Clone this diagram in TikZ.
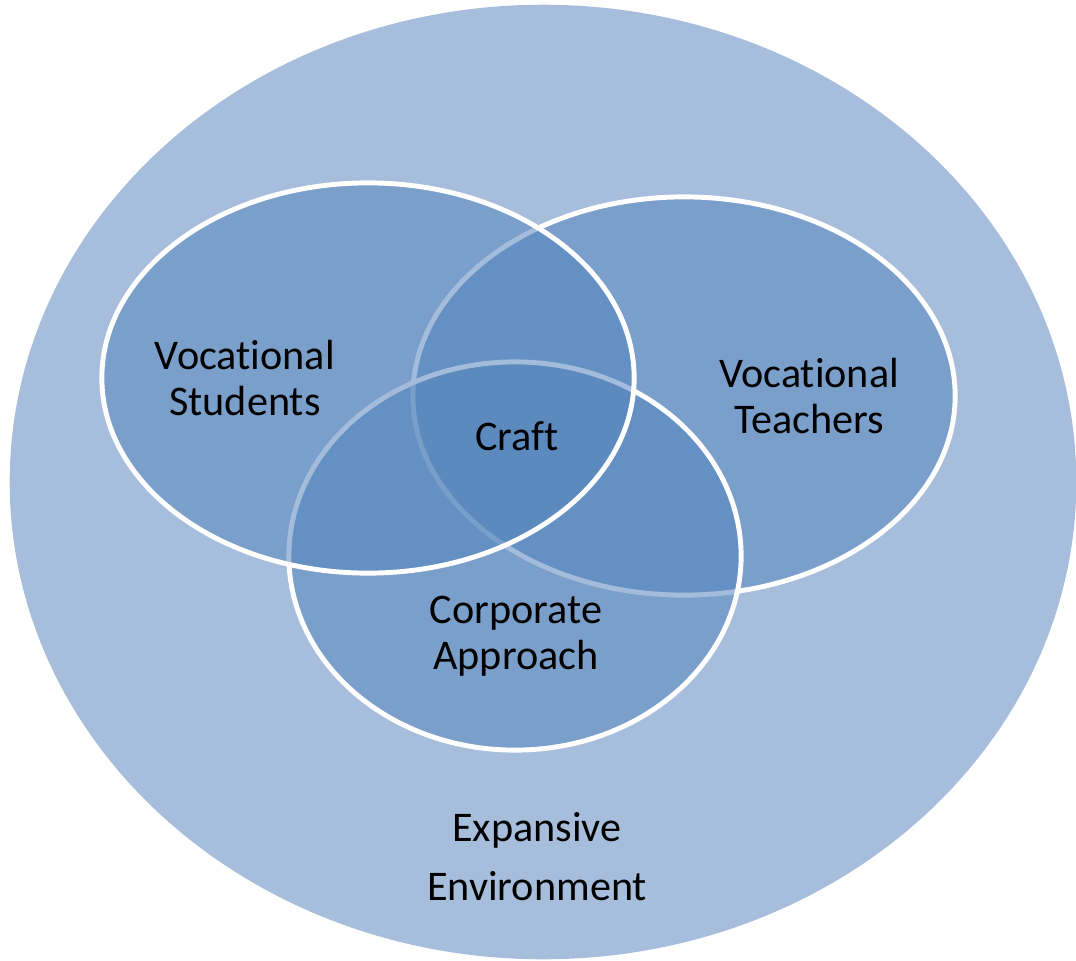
\documentclass[tikz,border=0pt]{standalone}
\usepackage{fontspec}
\setmainfont[Ligatures=NoCommon]{Carlito}
\usepackage{tikz}
\usetikzlibrary{shapes.geometric, positioning}

\definecolor{envblue}{HTML}{A6BEDC}
\definecolor{vennblue}{HTML}{5585BD}

\begin{document}
\begin{tikzpicture}[
		x=0.01cm, y=-0.01cm,
		env/.style={ellipse, fill=envblue, inner sep=0pt, minimum width=10.66cm, minimum height=9.54cm},
		venn/.style={ellipse, draw=white, line width=1.4pt, fill=vennblue, fill opacity=0.54, inner sep=0pt},
		txt/.style={align=center, font=\fontsize{12}{13.1}\selectfont, text=black}
		]
		\useasboundingbox (0,0) rectangle (1076,960);
		
		% Outer environment
		\node[env] (environment) at (543,482) {};
		
		% Three overlapping sets
		\node[venn, minimum width=5.42cm, minimum height=3.98cm] (teachers) at (684,396) {};
		\node[venn, minimum width=4.52cm, minimum height=3.88cm] (corporate) at (515,556) {};
		\node[venn, minimum width=5.32cm, minimum height=3.90cm] (students) at (368,378) {};
		
		% Labels
		\node[txt, xshift=-1.23cm] (studentslabel) at (students.center) {Vocational\\Students};
		\node[txt, xshift=1.25cm] (teacherslabel) at (teachers.center) {Vocational\\Teachers};
		\node[txt] (craft) at (517,436) {Craft};
		\node[txt] (corporatelabel) at (516,636) {Corporate\\Approach};
		\node[txt, font=\fontsize{12}{16.8}\selectfont] (envlabel) at (537,857) {Expansive\\Environment};
		
	\end{tikzpicture}
\end{document}
